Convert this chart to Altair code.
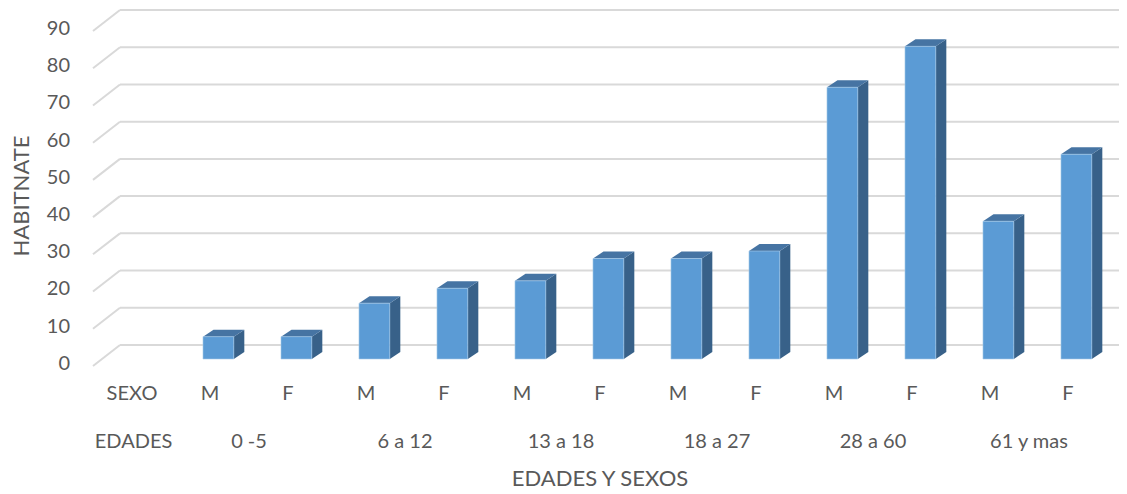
import altair as alt
import pandas as pd

# ---- data ----
SEXO = ["M", "F", "M", "F", "M", "F", "M", "F", "M", "F", "M", "F"]
EDADES = ["0 -5", "6 a 12", "13 a 18", "18 a 27", "28 a 60", "61 y mas"]
HABITANTES = [6, 6, 15, 19, 21, 27, 27, 29, 73, 84, 37, 55]
Y_TICKS = [0, 10, 20, 30, 40, 50, 60, 70, 80, 90]
Y_TITLE = "HABITNATE"
X_TITLE = "EDADES Y SEXOS"
ROW1_HEAD = "SEXO"
ROW2_HEAD = "EDADES"

# ---- 3D geometry parameters (in data units) ----
L, R = -0.09, 0.305      # front face extent around slot index
DX, DY = 0.135, 1.88     # depth of bar (x units, y units)
WALL = 3.76              # back wall offset (y units)
FRONT = -1.88            # front plane offset (y units)

FONT = "Lato"
TXT = "#595959"

xs = alt.Scale(domain=[0, 12], range=[124, 1060], nice=False, zero=False)
ys = alt.Scale(domain=[0, 90], range=[351, 16], nice=False, zero=False)

front_rows, side_rows, top_rows = [], [], []
for k, v in enumerate(HABITANTES):
    i = k + 1
    front_rows.append(dict(x=i + L, x2=i + R, y=0, y2=v))
    side_rows += [dict(id=i, x=i + R, lo=0, hi=v),
                  dict(id=i, x=i + R + DX, lo=DY, hi=v + DY)]
    top_rows += [dict(id=i, x=i + L, lo=v, hi=v),
                 dict(id=i, x=i + L + DX, lo=v, hi=v + DY),
                 dict(id=i, x=i + R, lo=v, hi=v + DY),
                 dict(id=i, x=i + R + DX, lo=v + DY, hi=v + DY)]
front_df = pd.DataFrame(front_rows)
side_df = pd.DataFrame(side_rows)
top_df = pd.DataFrame(top_rows)

grid_df = pd.DataFrame(dict(t=Y_TICKS))
grid_df["yb"] = grid_df["t"] + WALL
grid_df["yf"] = grid_df["t"] + FRONT
grid_df["xa"] = -0.5
grid_df["xb"] = -0.154
grid_df["xc"] = 13.0
grid_df["yl"] = grid_df["t"] - 1.3
grid_df["xl"] = -0.795
grid_df["lab"] = grid_df["t"].astype(str)

back_grid = alt.Chart(grid_df).mark_rule(color="#D9D9D9", strokeWidth=2).encode(
    x=alt.X("xb:Q", scale=xs, axis=None), x2="xc:Q",
    y=alt.Y("yb:Q", scale=ys, axis=None))
slant_grid = alt.Chart(grid_df).mark_rule(color="#D9D9D9", strokeWidth=2).encode(
    x=alt.X("xa:Q", scale=xs, axis=None), x2="xb:Q",
    y=alt.Y("yf:Q", scale=ys, axis=None), y2="yb:Q")
ylabels = alt.Chart(grid_df).mark_text(align="right", baseline="middle", font=FONT,
                                      fontSize=20, color=TXT).encode(
    x=alt.X("xl:Q", scale=xs, axis=None), y=alt.Y("yl:Q", scale=ys, axis=None), text="lab:N")

side = alt.Chart(side_df).mark_area(color="#386189", orient="vertical").encode(
    x=alt.X("x:Q", scale=xs, axis=None), y=alt.Y("hi:Q", scale=ys, axis=None), y2="lo:Q",
    detail="id:N")
top = alt.Chart(top_df).mark_area(color="#4674A3", orient="vertical").encode(
    x=alt.X("x:Q", scale=xs, axis=None), y=alt.Y("hi:Q", scale=ys, axis=None), y2="lo:Q",
    detail="id:N")
front = alt.Chart(front_df).mark_rect(color="#5B9BD5", stroke="#A9CBEA", strokeWidth=0.6).encode(
    x=alt.X("x:Q", scale=xs, axis=None), x2="x2:Q",
    y=alt.Y("y:Q", scale=ys, axis=None), y2="y2:Q")

row1_df = pd.DataFrame(dict(x=list(range(0, 13)), lab=[ROW1_HEAD] + SEXO))
row2_df = pd.DataFrame(dict(x=[0.02] + [1.5 + 2 * j for j in range(6)], lab=[ROW2_HEAD] + EDADES))
row1 = alt.Chart(row1_df).mark_text(font=FONT, fontSize=20, color=TXT, baseline="middle").encode(
    x=alt.X("x:Q", scale=xs, axis=None), y=alt.value(386), text="lab:N")
row2 = alt.Chart(row2_df).mark_text(font=FONT, fontSize=20, color=TXT, baseline="middle").encode(
    x=alt.X("x:Q", scale=xs, axis=None), y=alt.value(434), text="lab:N")

title_df = pd.DataFrame(dict(lab=[X_TITLE]))
xtitle = alt.Chart(title_df).mark_text(font=FONT, fontSize=22, color=TXT, baseline="middle").encode(
    x=alt.value(592), y=alt.value(471), text="lab:N")
ytitle_df = pd.DataFrame(dict(lab=[Y_TITLE]))
ytitle = alt.Chart(ytitle_df).mark_text(font=FONT, fontSize=22, color=TXT, baseline="middle",
                                        angle=270).encode(
    x=alt.value(14), y=alt.value(188), text="lab:N")

chart = alt.layer(back_grid, slant_grid, ylabels, side, top, front, row1, row2, xtitle, ytitle).properties(
    width=1111, height=486, padding=0, autosize=alt.AutoSizeParams(type="none"),
    background="white"
).configure_view(stroke=None)

chart.save("out.html", embed_options={"renderer": "svg", "actions": False})
